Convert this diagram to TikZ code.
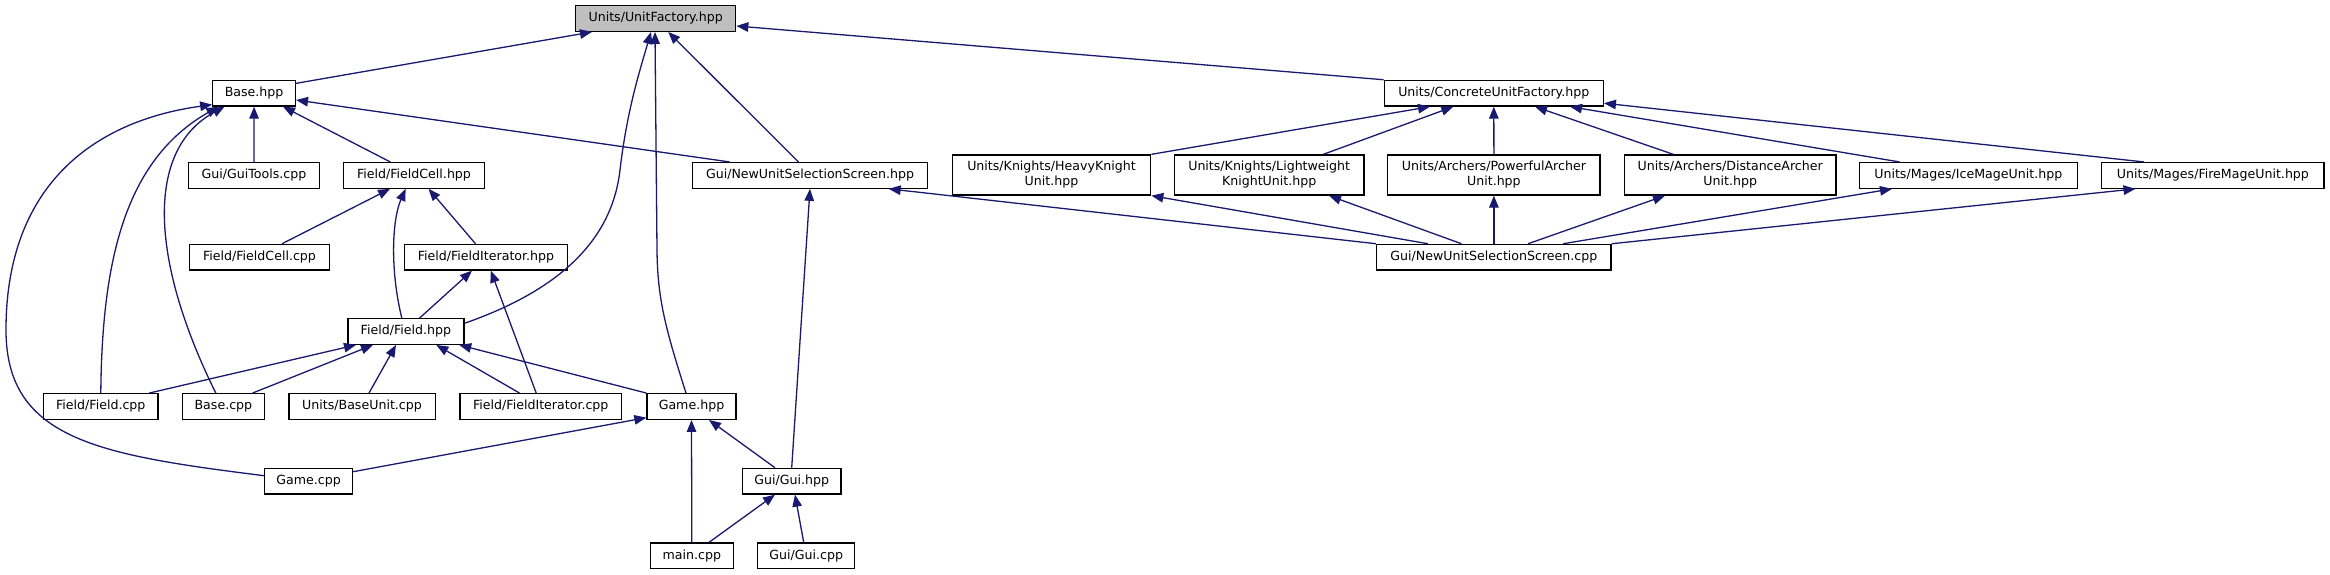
\documentclass[tikz,border=0pt]{standalone}
\usepackage{fontspec}
\setmainfont{DejaVu Sans}
\usetikzlibrary{arrows.meta,calc}
\definecolor{edgeblue}{HTML}{191970}
\definecolor{ufgray}{HTML}{BFBFBF}
\begin{document}
\begin{tikzpicture}[x=1pt,y=-1pt,
  box/.style={draw=black, line width=1.3pt, fill=white, inner sep=0pt, minimum height=25.6pt, font=\fontsize{12.6}{15}\selectfont, align=center},
  boxtwo/.style={box, minimum height=40pt},
  edge/.style={draw=edgeblue, line width=1.3pt, -{Triangle[length=12pt,width=9.5pt]}},
]
\fill[white] (0,0) rectangle (2330,575);
\useasboundingbox (0,0) rectangle (2330,575);

% nodes
\node[box, fill=ufgray, minimum width=160pt] (uf) at (655.7,18.5) {Units/UnitFactory.hpp};
\node[box, minimum width=82.6pt] (base) at (254.1,93.2) {Base.hpp};
\node[box, minimum width=219pt] (cuf) at (1493.8,93.2) {Units/ConcreteUnitFactory.hpp};
\node[box, minimum width=131.1pt] (guitools) at (253.9,175.4) {Gui/GuiTools.cpp};
\node[box, minimum width=141.3pt] (fcellh) at (414,175.4) {Field/FieldCell.hpp};
\node[box, minimum width=235.3pt] (nussh) at (810,175.4) {Gui/NewUnitSelectionScreen.hpp};
\node[boxtwo, minimum width=198.4pt] (heavy) at (1051.5,175) {Units/Knights/HeavyKnight\\Unit.hpp};
\node[boxtwo, minimum width=189.7pt] (light) at (1269.2,175) {Units/Knights/Lightweight\\KnightUnit.hpp};
\node[boxtwo, minimum width=212.3pt] (powerful) at (1493.9,175) {Units/Archers/PowerfulArcher\\Unit.hpp};
\node[boxtwo, minimum width=211.7pt] (distance) at (1730.2,175) {Units/Archers/DistanceArcher\\Unit.hpp};
\node[box, minimum width=218pt] (ice) at (1968.3,175.4) {Units/Mages/IceMageUnit.hpp};
\node[box, minimum width=222.3pt] (fire) at (2212.9,175.4) {Units/Mages/FireMageUnit.hpp};
\node[box, minimum width=140.3pt] (fcellcpp) at (259.5,257.2) {Field/FieldCell.cpp};
\node[box, minimum width=162.7pt] (fiterh) at (486,257.2) {Field/FieldIterator.hpp};
\node[box, minimum width=234.3pt] (nusscpp) at (1493.9,257.2) {Gui/NewUnitSelectionScreen.cpp};
\node[box, minimum width=115.9pt] (fieldh) at (405.9,331.5) {Field/Field.hpp};
\node[box, minimum width=114.3pt] (fieldcpp) at (100.8,406.5) {Field/Field.cpp};
\node[box, minimum width=81.5pt] (basecpp) at (223.4,406.5) {Base.cpp};
\node[box, minimum width=146.3pt] (baseunit) at (362,406.5) {Units/BaseUnit.cpp};
\node[box, minimum width=161.9pt] (fitercpp) at (540.8,406.5) {Field/FieldIterator.cpp};
\node[box, minimum width=89pt] (gamehpp) at (691.5,406.5) {Game.hpp};
\node[box, minimum width=87.9pt] (gamecpp) at (308.6,481.2) {Game.cpp};
\node[box, minimum width=98.7pt] (guihpp) at (791.7,481.2) {Gui/Gui.hpp};
\node[box, minimum width=82.7pt] (maincpp) at (691.8,555.8) {main.cpp};
\node[box, minimum width=97pt] (guicpp) at (806.3,555.8) {Gui/Gui.cpp};

% edges into Units/UnitFactory.hpp
\draw[edge] ($(base.north east)+(0,3.6)$) -- ($(uf.south)+(-63.7,0)$);
\draw[edge] (cuf.north west) -- ($(uf.east)+(0,7.5)$);
\draw[edge] ($(nussh.north)+(-11.5,0)$) -- ($(uf.south)+(12.5,0)$);
\draw[edge] ($(fieldh.east)+(0,-8.2)$) .. controls (560,290) and (612,240) .. (620,170) .. controls (627,110) and (640,70) .. ($(uf.south)+(-4.7,0)$);
\draw[edge] ($(gamehpp.north)+(-5.5,0)$) .. controls (666,330) and (657.5,300) .. (657,250) -- ($(uf.south)+(-0.7,0)$);

% edges into Base.hpp
\draw[edge] (guitools.north) -- (base.south);
\draw[edge] ($(fcellh.north)+(-23.7,0)$) -- ($(base.south)+(28.9,0)$);
\draw[edge] ($(nussh.north)+(-80.4,0)$) -- ($(base.east)+(0,6.8)$);
\draw[edge] (fieldcpp.north) .. controls (102,260) and (125,160) .. ($(base.south)+(-35.7,0)$);
\draw[edge] ($(basecpp.north)+(-7.6,0)$) .. controls (150,260) and (145,150) .. ($(base.south)+(-29.6,0)$);
\draw[edge] ($(gamecpp.west)+(0,-5.5)$) .. controls (100,455) and (6,440) .. (6,330) .. controls (6,180) and (100,120) .. ($(base.south west)+(0,-2)$);

% edges into Field/FieldCell.hpp
\draw[edge] ($(fcellcpp.north)+(22.5,0)$) -- ($(fcellh.south)+(-24,0)$);
\draw[edge] ($(fieldh.north)+(-4.1,0)$) .. controls (390,270) and (392,220) .. ($(fcellh.south)+(-8.4,0)$);
\draw[edge] ($(fiterh.north)+(-10.5,0)$) -- ($(fcellh.south)+(14.6,0)$);

% edges into Field/FieldIterator.hpp
\draw[edge] ($(fieldh.north)+(13.7,0)$) -- ($(fiterh.south)+(-14,0)$);
\draw[edge] ($(fitercpp.north)+(-4.6,0)$) -- ($(fiterh.south)+(4.8,0)$);

% edges into Field/Field.hpp
\draw[edge] ($(fieldcpp.north)+(48.5,0)$) -- ($(fieldh.south)+(-49.9,0)$);
\draw[edge] ($(basecpp.north)+(29.2,0)$) -- ($(fieldh.south)+(-32.9,0)$);
\draw[edge] ($(baseunit.north)+(7,0)$) -- ($(fieldh.south)+(-9.9,0)$);
\draw[edge] ($(fitercpp.north)+(-21.3,0)$) -- ($(fieldh.south)+(30.4,0)$);
\draw[edge] (gamehpp.north west) -- ($(fieldh.south)+(53.3,0)$);

% edges into Game.hpp
\draw[edge] ($(gamecpp.east)+(0,-9.5)$) -- ($(gamehpp.south west)+(0,-2.3)$);
\draw[edge] (maincpp.north) -- (gamehpp.south);
\draw[edge] ($(guihpp.north)+(-16.7,0)$) -- ($(gamehpp.south)+(17.5,0)$);

% edges into Gui/Gui.hpp
\draw[edge] ($(maincpp.north)+(17.2,0)$) -- ($(guihpp.south)+(-16.7,0)$);
\draw[edge] ($(guicpp.north)+(-2.6,0)$) -- ($(guihpp.south)+(3.3,0)$);

% edges into Gui/NewUnitSelectionScreen.hpp
\draw[edge] (guihpp.north) -- (nussh.south);
\draw[edge] (nusscpp.north west) -- ($(nussh.south)+(78.7,0)$);

% edges into Units/ConcreteUnitFactory.hpp
\draw[edge] (heavy.north east) -- ($(cuf.south)+(-63.8,0)$);
\draw[edge] ($(light.north)+(54.1,0)$) -- ($(cuf.south)+(-40.5,0)$);
\draw[edge] (powerful.north) -- (cuf.south);
\draw[edge] ($(distance.north)+(-56.9,0)$) -- ($(cuf.south)+(41.2,0)$);
\draw[edge] ($(ice.north)+(-68.8,0)$) -- ($(cuf.south)+(76.2,0)$);
\draw[edge] ($(fire.north)+(-68.9,0)$) -- ($(cuf.east)+(0,10)$);

% edges from Gui/NewUnitSelectionScreen.cpp
\draw[edge] ($(nusscpp.north)+(-65.9,0)$) -- (heavy.south east);
\draw[edge] ($(nusscpp.north)+(-32.4,0)$) -- ($(light.south)+(59.8,0)$);
\draw[edge] (nusscpp.north) -- (powerful.south);
\draw[edge] ($(nusscpp.north)+(34.1,0)$) -- ($(distance.south)+(-65.2,0)$);
\draw[edge] ($(nusscpp.north)+(69.1,0)$) -- ($(ice.south)+(-76.3,0)$);
\draw[edge] (nusscpp.north east) -- ($(fire.south)+(-77.4,0)$);
\end{tikzpicture}
\end{document}
